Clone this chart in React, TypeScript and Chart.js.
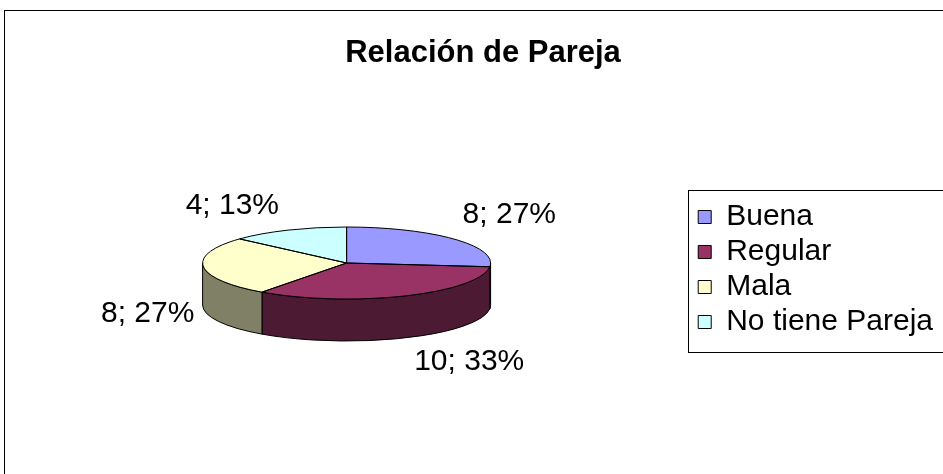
import React, { useEffect, useRef } from "react";
import { Chart, registerables } from "chart.js";

Chart.register(...registerables);

const TITLE = "Relación de Pareja";
const categories = ["Buena", "Regular", "Mala", "No tiene Pareja"];
const values = [8, 10, 8, 4];
const topColors = ["#9999FF", "#993366", "#FFFFCC", "#CCFFFF"];
const sideColors = ["#4D4D80", "#4D1A33", "#808066", "#668080"];

const FONT = "'Liberation Sans', Arial, Helvetica, sans-serif";
const TILT = 0.25; // vertical squash of the pie top
const DEPTH = 42; // thickness of the 3D side

function sidePath(ctx: CanvasRenderingContext2D, x: number, y: number, r: number, a1: number, a2: number) {
  const s = Math.max(a1, 0);
  const e = Math.min(a2, Math.PI);
  if (e <= s) return false;
  ctx.beginPath();
  ctx.ellipse(x, y, r, r * TILT, 0, s, e, false);
  ctx.lineTo(x + r * Math.cos(e), y + r * TILT * Math.sin(e) + DEPTH);
  ctx.ellipse(x, y + DEPTH, r, r * TILT, 0, e, s, true);
  ctx.closePath();
  return true;
}

const pie3d = {
  id: "pie3d",
  beforeDraw(chart: any) {
    const ctx = chart.ctx;
    ctx.save();
    ctx.strokeStyle = "#000";
    ctx.lineWidth = 1;
    ctx.strokeRect(4.5, 10.5, 1400, 1400);
    ctx.restore();
  },
  beforeDatasetsDraw(chart: any) {
    const ctx = chart.ctx;
    const meta = chart.getDatasetMeta(0);
    ctx.save();
    ctx.lineWidth = 1;
    ctx.strokeStyle = "#000";
    ctx.lineJoin = "round";
    meta.data.forEach((arc: any, i: number) => {
      const { x, y, startAngle, endAngle, outerRadius } = arc;
      if (sidePath(ctx, x, y, outerRadius, startAngle, endAngle)) {
        ctx.fillStyle = sideColors[i];
        ctx.fill();
        ctx.stroke();
      }
    });
    ctx.restore();
    const a = meta.data[0];
    ctx.save();
    ctx.translate(a.x, a.y);
    ctx.scale(1, TILT);
    ctx.translate(-a.x, -a.y);
  },
  afterDatasetsDraw(chart: any) {
    const ctx = chart.ctx;
    ctx.restore();
    const meta = chart.getDatasetMeta(0);
    ctx.save();
    ctx.lineWidth = 1;
    ctx.strokeStyle = "#000";
    ctx.lineJoin = "round";
    meta.data.forEach((arc: any) => {
      const { x, y, startAngle, endAngle, outerRadius: r } = arc;
      ctx.beginPath();
      ctx.moveTo(x, y);
      ctx.lineTo(x + r * Math.cos(startAngle), y + r * TILT * Math.sin(startAngle));
      ctx.ellipse(x, y, r, r * TILT, 0, startAngle, endAngle, false);
      ctx.closePath();
      ctx.stroke();
    });
    // data labels
    const total = values.reduce((s, v) => s + v, 0);
    ctx.fillStyle = "#000";
    ctx.font = `30px ${FONT}`;
    ctx.textBaseline = "middle";
    meta.data.forEach((arc: any, i: number) => {
      const mid = (arc.startAngle + arc.endAngle) / 2;
      const c = Math.cos(mid);
      const s = Math.sin(mid);
      const px = arc.x + arc.outerRadius * c;
      const py = arc.y + arc.outerRadius * TILT * s + (s > 0 ? DEPTH : 0);
      const tx = px + (c >= 0 ? 9 : -9);
      const ty = py + 24 * Math.max(-1, Math.min(1, s * 2));
      ctx.textAlign = c >= 0 ? "left" : "right";
      ctx.fillText(`${values[i]}; ${Math.round((values[i] / total) * 100)}%`, tx, ty);
    });
    ctx.restore();
  },
  afterDraw(chart: any) {
    const ctx = chart.ctx;
    ctx.save();
    // legend frame
    const lg = chart.legend;
    ctx.strokeStyle = "#000";
    ctx.lineWidth = 1;
    ctx.strokeRect(Math.round(lg.left) - 5 + 0.5, 190.5, 400, 162);
    // title
    ctx.fillStyle = "#000";
    ctx.font = `bold 31px ${FONT}`;
    ctx.textAlign = "center";
    ctx.textBaseline = "alphabetic";
    ctx.fillText(TITLE, 483, 62);
    ctx.restore();
  },
};

export default function App() {
  const ref = useRef<HTMLCanvasElement | null>(null);
  useEffect(() => {
    if (!ref.current) return;
    const baseGen = (Chart as any).overrides.doughnut.plugins.legend.labels.generateLabels;
    const chart = new Chart(ref.current, {
      type: "pie",
      data: {
        labels: categories,
        datasets: [
          {
            data: values,
            backgroundColor: topColors,
            borderWidth: 0,
            radius: 144,
            clip: false,
          } as any,
        ],
      },
      options: {
        responsive: false,
        animation: false,
        events: [],
        layout: { padding: { left: 0, right: 0, top: 184, bottom: 132 } },
        plugins: {
          title: { display: false },
          tooltip: { enabled: false },
          legend: {
            display: true,
            position: "right",
            align: "end",
            labels: {
              boxWidth: 13,
              boxHeight: 13,
              padding: 5,
              color: "#000",
              font: { size: 30, family: FONT },
              generateLabels: (c: any) =>
                baseGen(c).map((it: any) => ({ ...it, strokeStyle: "#000", lineWidth: 1 })),
            },
          },
        },
      } as any,
      plugins: [pie3d],
    });
    return () => chart.destroy();
  }, []);
  return (
    <div style={{ position: "absolute", left: 0, top: 0, width: 943, height: 474, background: "#fff" }}>
      <canvas ref={ref} width={943} height={474} style={{ display: "block" }} />
    </div>
  );
}
